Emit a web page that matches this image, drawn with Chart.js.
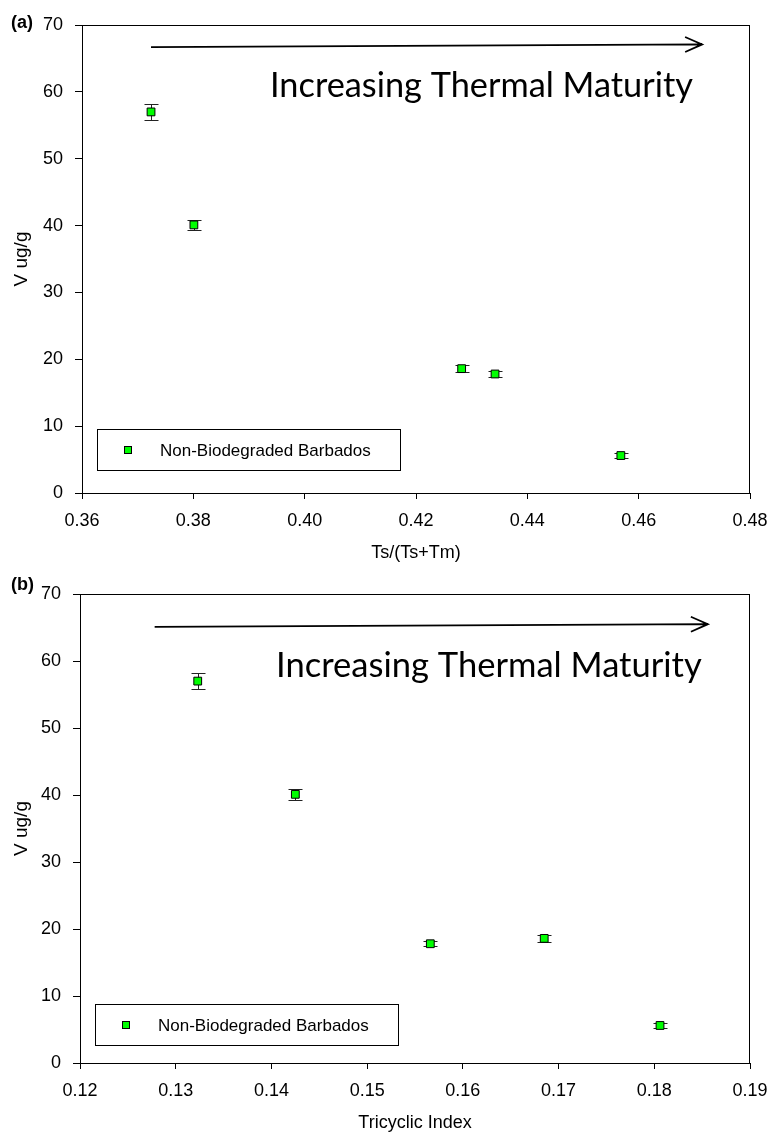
<!DOCTYPE html>
<html>
<head>
<meta charset="utf-8">
<script src="https://cdn.jsdelivr.net/npm/chart.js@4.4.1/dist/chart.umd.min.js"></script>
<style>
  body { margin: 0; background: #fff; }
  canvas { display: block; }
</style>
</head>
<body>
<canvas id="chartA" width="770" height="570"></canvas>
<canvas id="chartB" width="770" height="566"></canvas>
<script>
// data
const seriesLabel = 'Non-Biodegraded Barbados';
const tsRatio   = [0.3724, 0.3801, 0.4282, 0.4342, 0.4568];
const vValuesA  = [57.0, 40.1, 18.6, 17.8, 5.6];
const vErrA     = [1.2, 0.8, 0.5, 0.4, 0.4];
const tricyclic = [0.1323, 0.1425, 0.1566, 0.1685, 0.1806];
const vValuesB  = [57.0, 40.1, 17.8, 18.6, 5.6];
const vErrB     = [1.2, 0.8, 0.4, 0.5, 0.4];
const yTicks  = [0, 10, 20, 30, 40, 50, 60, 70];
const xTicksA = [0.36, 0.38, 0.40, 0.42, 0.44, 0.46, 0.48];
const xTicksB = [0.12, 0.13, 0.14, 0.15, 0.16, 0.17, 0.18, 0.19];
const annotationText = 'Increasing Thermal Maturity';

const FONT = '"Liberation Sans", Arial, sans-serif';

const extras = {
  id: 'extras',
  beforeDatasetsDraw(chart, args, opts) {
    const { ctx } = chart;
    const xs = chart.scales.x, ys = chart.scales.y;
    ctx.save();
    ctx.strokeStyle = '#222';
    ctx.lineWidth = 1;
    chart.data.datasets[0].data.forEach((p, i) => {
      const err = opts.errors[i];
      const px = Math.round(xs.getPixelForValue(p.x)) + 0.5;
      const top = Math.round(ys.getPixelForValue(p.y + err)) + 0.5;
      const bot = Math.round(ys.getPixelForValue(p.y - err)) + 0.5;
      ctx.beginPath();
      ctx.moveTo(px, top); ctx.lineTo(px, bot);
      ctx.moveTo(px - 7, top); ctx.lineTo(px + 7, top);
      ctx.moveTo(px - 7, bot); ctx.lineTo(px + 7, bot);
      ctx.stroke();
    });
    ctx.restore();
  },
  afterDraw(chart, args, opts) {
    const { ctx, chartArea: a } = chart;
    const xs = chart.scales.x, ys = chart.scales.y;
    ctx.save();

    // frame
    ctx.strokeStyle = '#000';
    ctx.lineWidth = 1;
    ctx.strokeRect(a.left + 0.5, a.top + 0.5, a.right - a.left - 1, a.bottom - a.top);

    // arrow
    const ar = opts.arrow;
    const x0 = xs.getPixelForValue(ar.x0), y0 = ys.getPixelForValue(ar.y0);
    const x1 = xs.getPixelForValue(ar.x1), y1 = ys.getPixelForValue(ar.y1);
    const ang = Math.atan2(y1 - y0, x1 - x0);
    ctx.lineWidth = 1.8;
    ctx.beginPath();
    ctx.moveTo(x0, y0); ctx.lineTo(x1, y1);
    ctx.moveTo(x1 - 17 * Math.cos(ang) + 7.5 * Math.sin(ang), y1 - 17 * Math.sin(ang) - 7.5 * Math.cos(ang));
    ctx.lineTo(x1, y1);
    ctx.lineTo(x1 - 17 * Math.cos(ang) - 7.5 * Math.sin(ang), y1 - 17 * Math.sin(ang) + 7.5 * Math.cos(ang));
    ctx.stroke();

    // annotation text, sized to the width it has in the figure
    ctx.font = '32px Lato, "Open Sans", sans-serif';
    const w = ctx.measureText(annotationText).width;
    const size = 32 * opts.text.width / w;
    ctx.font = size.toFixed(2) + 'px Lato, "Open Sans", sans-serif';
    ctx.fillStyle = '#000';
    ctx.textAlign = 'left';
    ctx.textBaseline = 'alphabetic';
    ctx.fillText(annotationText, opts.text.x, opts.text.y);

    // legend box
    const lg = opts.legend;
    const lx = a.left + lg.dx, ly = a.bottom - lg.dy;
    ctx.lineWidth = 1;
    ctx.strokeStyle = '#000';
    ctx.strokeRect(lx + 0.5, ly + 0.5, lg.w, lg.h);
    const cy = Math.round(ly + lg.h / 2);
    ctx.fillStyle = '#00ff00';
    ctx.fillRect(lx + 27, cy - 4, 8, 8);
    ctx.strokeRect(lx + 27.5, cy - 3.5, 7, 7);
    ctx.fillStyle = '#000';
    ctx.font = '17px ' + FONT;
    ctx.textBaseline = 'middle';
    ctx.fillText(chart.data.datasets[0].label, lx + 63, cy + 1);

    // panel label
    ctx.font = 'bold 18px ' + FONT;
    ctx.textBaseline = 'middle';
    ctx.fillText(opts.panel, 11, opts.panelY);
    ctx.restore();
  }
};

function makeChart(id, xs, ys, errs, xTicks, xTitle, cfg) {
  return new Chart(document.getElementById(id), {
    type: 'scatter',
    data: {
      datasets: [{
        label: seriesLabel,
        data: xs.map((x, i) => ({ x, y: ys[i] })),
        pointStyle: 'rect',
        pointRadius: 5.5,
        pointHoverRadius: 5.5,
        pointBackgroundColor: '#00ff00',
        pointBorderColor: '#000',
        pointBorderWidth: 1
      }]
    },
    options: {
      responsive: false,
      animation: false,
      events: [],
      layout: { padding: { top: cfg.top, right: 20, left: 0, bottom: 0 } },
      plugins: {
        legend: { display: false },
        tooltip: { enabled: false },
        extras: {
          errors: errs,
          arrow: cfg.arrow,
          text: cfg.text,
          legend: cfg.legend,
          panel: cfg.panel,
          panelY: cfg.panelY
        }
      },
      scales: {
        x: {
          type: 'linear',
          min: xTicks[0],
          max: xTicks[xTicks.length - 1],
          afterBuildTicks: s => { s.ticks = xTicks.map(v => ({ value: v })); },
          afterFit: s => { s.height = cfg.xHeight; s.paddingLeft = 0; s.paddingRight = 0; },
          border: { display: false },
          grid: { drawOnChartArea: false, drawTicks: true, tickLength: 6, color: '#000' },
          ticks: {
            padding: 11,
            color: '#000',
            font: { size: 18, family: FONT },
            callback: v => Number(v).toFixed(2)
          },
          title: {
            display: true,
            text: xTitle,
            color: '#000',
            font: { size: 18, family: FONT },
            padding: { top: 0, bottom: cfg.xTitlePad }
          }
        },
        y: {
          type: 'linear',
          min: 0,
          max: 70,
          afterBuildTicks: s => { s.ticks = yTicks.map(v => ({ value: v })); },
          afterFit: s => { s.width = cfg.yWidth; s.paddingTop = 0; s.paddingBottom = 0; },
          border: { display: false },
          grid: { drawOnChartArea: false, drawTicks: true, tickLength: 7, color: '#000' },
          ticks: {
            padding: 12,
            color: '#000',
            font: { size: 18, family: FONT }
          },
          title: {
            display: true,
            text: 'V ug/g',
            color: '#000',
            font: { size: 19, family: FONT },
            padding: { top: 10, bottom: 0 }
          }
        }
      }
    },
    plugins: [extras]
  });
}

makeChart('chartA', tsRatio, vValuesA, vErrA, xTicksA, 'Ts/(Ts+Tm)', {
  top: 25, xHeight: 77, yWidth: 82, xTitlePad: 6,
  arrow: { x0: 0.3724, y0: 66.7, x1: 0.4714, y1: 67.1 },
  text: { x: 270, y: 97, width: 423 },
  legend: { dx: 15, dy: 64, w: 303, h: 41 },
  panel: '(a)', panelY: 23
});

makeChart('chartB', tricyclic, vValuesB, vErrB, xTicksB, 'Tricyclic Index', {
  top: 24, xHeight: 73, yWidth: 80, xTitlePad: 2,
  arrow: { x0: 0.1278, y0: 65.1, x1: 0.1856, y1: 65.5 },
  text: { x: 276, y: 107, width: 426 },
  legend: { dx: 15, dy: 59, w: 303, h: 41 },
  panel: '(b)', panelY: 15
});
</script>
</body>
</html>
